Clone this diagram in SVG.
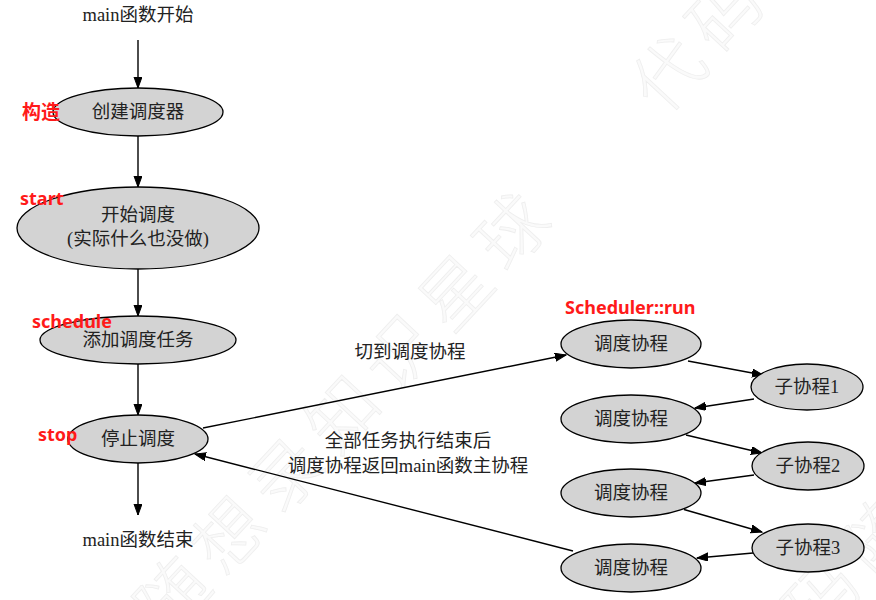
<svg xmlns="http://www.w3.org/2000/svg" width="876" height="600" viewBox="0 0 876 600">
<defs>
<marker id="ah" markerUnits="userSpaceOnUse" markerWidth="12" markerHeight="10" refX="11" refY="4" orient="auto">
<path d="M0,0 L11,4 L0,8 Z" fill="#000" stroke="#000" stroke-width="1"/>
</marker>
<style>
.wm{font-family:"Noto Sans CJK SC",sans-serif;font-size:70px;font-weight:300;fill:#fafafa;stroke:#eeeeee;stroke-width:0.8;letter-spacing:13px}
.n ellipse{fill:#d3d3d3;stroke:#000;stroke-width:1.3}
.t{font-family:"Liberation Serif","Noto Sans CJK SC",serif;font-size:18.5px;fill:#222;text-anchor:middle}
.r{font-family:"Noto Sans","Liberation Sans",sans-serif;font-size:18px;font-weight:bold;fill:#ff1a1a}
.rc{font-family:"Noto Sans CJK SC",sans-serif;font-size:19px;font-weight:bold;fill:#ff1a1a}
.e{fill:none;stroke:#000;stroke-width:1.4;marker-end:url(#ah)}
</style>
</defs>
<rect width="876" height="600" fill="#fff"/>
<g id="watermark">
<text class="wm" transform="translate(54,760) rotate(-47)">代码随想录知识星球</text>
<text class="wm" transform="translate(663,117) rotate(-47)">代码随想录知识星球</text>
<text class="wm" transform="translate(760,700) rotate(-47)">代码随想录知识星球</text>
</g>
<g id="connectors">
<line class="e" x1="138" y1="40" x2="138" y2="88"/>
<line class="e" x1="138" y1="136" x2="138" y2="187"/>
<line class="e" x1="138" y1="269" x2="138" y2="316"/>
<line class="e" x1="138" y1="364" x2="138" y2="415"/>
<line class="e" x1="138" y1="463" x2="138" y2="515"/>
<line class="e" x1="203" y1="428" x2="566" y2="355"/>
<line class="e" x1="573" y1="551" x2="195" y2="454"/>
<line class="e" x1="688" y1="361" x2="763" y2="375"/>
<line class="e" x1="754" y1="399" x2="695" y2="408"/>
<line class="e" x1="686" y1="435" x2="762" y2="453"/>
<line class="e" x1="754" y1="475" x2="695" y2="483"/>
<line class="e" x1="684" y1="509.5" x2="762" y2="532"/>
<line class="e" x1="753" y1="553" x2="697" y2="558"/>
<text class="t" x="410" y="358">切到调度协程</text>
<text class="t" x="408" y="447">全部任务执行结束后</text>
<text class="t" x="408" y="472">调度协程返回main函数主协程</text>
</g>
<g id="start_text"><text class="t" x="138" y="21">main函数开始</text></g>
<g id="n_create" class="n"><ellipse cx="138" cy="112" rx="85" ry="24"/><text class="t" x="138" y="118">创建调度器</text></g>
<g id="n_start" class="n"><ellipse cx="138" cy="228" rx="121" ry="41"/><text class="t" x="138" y="221">开始调度</text><text class="t" x="138" y="245">(实际什么也没做)</text></g>
<g id="n_schedule" class="n"><ellipse cx="138" cy="340" rx="98" ry="24"/><text class="t" x="138" y="346">添加调度任务</text></g>
<g id="n_stop" class="n"><ellipse cx="138" cy="439" rx="70" ry="24"/><text class="t" x="138" y="445">停止调度</text></g>
<g id="end_text"><text class="t" x="138" y="546">main函数结束</text></g>
<g id="n_sch1" class="n"><ellipse cx="631" cy="344" rx="70" ry="24"/><text class="t" x="631" y="350">调度协程</text></g>
<g id="n_co1" class="n"><ellipse cx="807" cy="387" rx="56" ry="23"/><text class="t" x="807" y="393">子协程1</text></g>
<g id="n_sch2" class="n"><ellipse cx="631" cy="419" rx="70" ry="24"/><text class="t" x="631" y="425">调度协程</text></g>
<g id="n_co2" class="n"><ellipse cx="808" cy="466" rx="56" ry="24"/><text class="t" x="808" y="472">子协程2</text></g>
<g id="n_sch3" class="n"><ellipse cx="631" cy="493" rx="70" ry="24"/><text class="t" x="631" y="499">调度协程</text></g>
<g id="n_co3" class="n"><ellipse cx="808" cy="548" rx="56" ry="24"/><text class="t" x="808" y="554">子协程3</text></g>
<g id="n_sch4" class="n"><ellipse cx="631" cy="568" rx="70" ry="24"/><text class="t" x="631" y="574">调度协程</text></g>
<g id="labels">
<text class="rc" x="22" y="119">构造</text>
<text class="r" x="20" y="205">start</text>
<text class="r" x="32" y="328">schedule</text>
<text class="r" x="38" y="441">stop</text>
<text class="r" x="565" y="314">Scheduler::run</text>
</g>
</svg>
